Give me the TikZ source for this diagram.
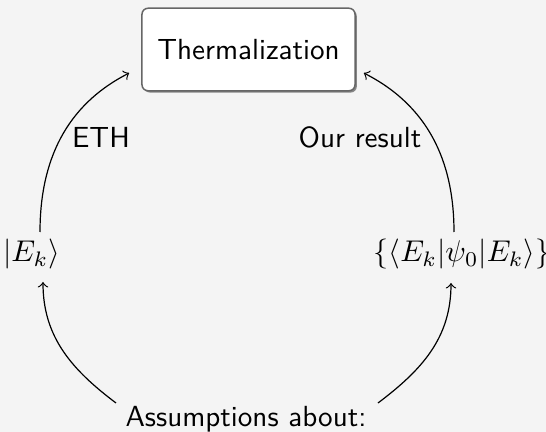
\documentclass[tikz,border=0pt]{standalone}
\usetikzlibrary{shadows,calc}
\definecolor{bg}{HTML}{F4F4F4}
\newcommand{\picfont}{\fontsize{9.7pt}{11.5pt}\selectfont}
\tikzset{
  lbl/.style={font=\sffamily\picfont, inner sep=0pt},
  mathlbl/.style={font=\picfont, inner sep=0pt},
  thermbox/.style={draw=black!60, fill=white, line width=0.5pt, rounded corners=2pt,
    minimum width=71pt, minimum height=27.5pt, font=\sffamily\picfont,
    drop shadow={shadow xshift=0.6pt, shadow yshift=-0.6pt, fill=black, opacity=0.45}},
  conn/.style={->, line width=0.4pt}
}
\begin{document}
\begin{tikzpicture}[x=0.33333pt, y=-0.33333pt]
\fill[bg] (0,0) rectangle (546,432);
\useasboundingbox (0,0) rectangle (546,432);
\node[thermbox] (therm) at (248.5,49.5) {Thermalization};
\node[mathlbl, anchor=base] (ek) at (31.5,262) {$|E_k\rangle$};
\node[mathlbl, anchor=base] (rho) at (462,262) {$\{\langle E_k|\psi_0|E_k\rangle\}$};
\node[lbl, anchor=base] (assum) at (246,427) {Assumptions about:};
\node[lbl, anchor=base] (eth) at (101,148) {ETH};
\node[lbl, anchor=base] (our) at (360,148) {Our result};
\draw[conn] ($(ek.base)+(8.5,-30)$) to[out=90, in=207] ($(therm.west)+(-12,23.5)$);
\draw[conn] ($(rho.base)+(-8,-30)$) to[out=90, in=-27] ($(therm.east)+(8,23.5)$);
\draw[conn] ($(assum.base)+(-130,-24)$) to[out=143, in=-90] ($(ek.base)+(11.5,20)$);
\draw[conn] ($(assum.base)+(132,-24)$) to[out=37, in=-90] ($(rho.base)+(-11,21)$);
\end{tikzpicture}
\end{document}
